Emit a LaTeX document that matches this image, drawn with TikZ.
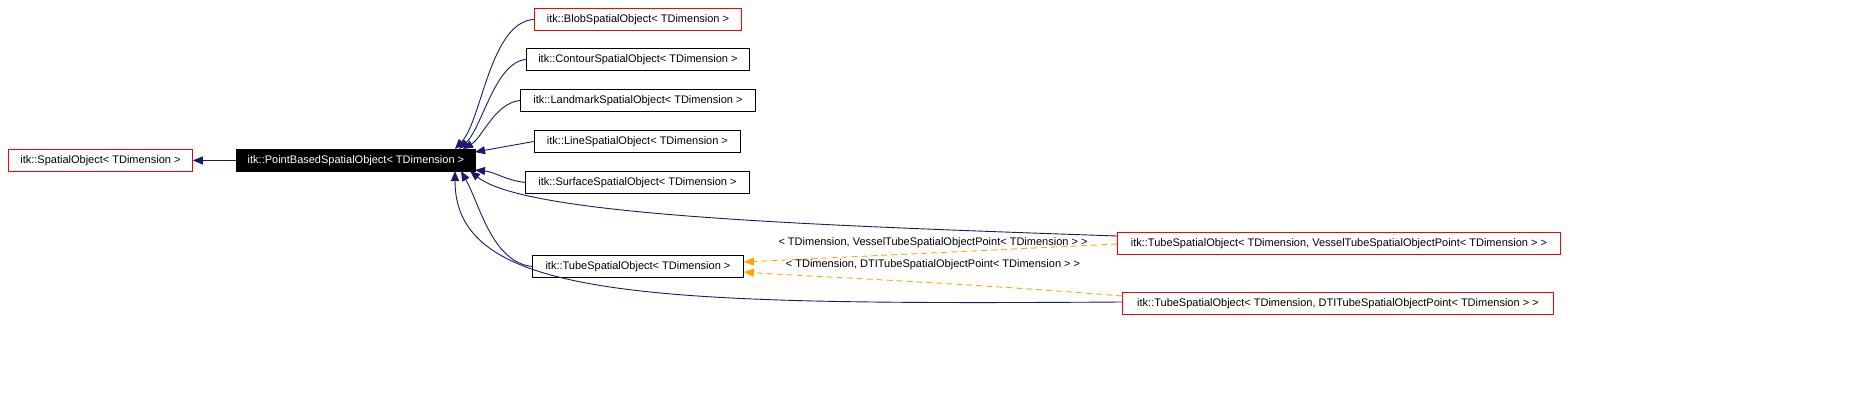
\documentclass[tikz,border=0pt]{standalone}
\usepackage{fontspec}
\setmainfont{Liberation Sans}
\usetikzlibrary{arrows.meta}
\definecolor{navy}{RGB}{25,25,112}
\definecolor{dorange}{RGB}{255,165,0}
\begin{document}
\begin{tikzpicture}[x=1pt,y=-1pt,line width=0.9pt,
  box/.style={draw=black,fill=white,inner sep=0pt,minimum height=22pt,font=\fontsize{11}{13}\selectfont,anchor=north west},
  rbox/.style={box,draw=red},
  inh/.style={navy,-{Triangle[length=10pt,width=8pt]}},
  tmpl/.style={dorange,dashed,dash pattern=on 6pt off 4pt,-{Triangle[length=10pt,width=8pt]}},
  lab/.style={font=\fontsize{11}{13}\selectfont,inner sep=0pt}]
\useasboundingbox (0,0) rectangle (1850,407);
\node[rbox,minimum width=184pt] (so) at (8,149) {itk::SpatialObject< TDimension >};
\node[box,fill=black,text=white,minimum width=239pt] (pb) at (236,149) {itk::PointBasedSpatialObject< TDimension >};
\node[rbox,minimum width=207pt] (blob) at (534,8) {itk::BlobSpatialObject< TDimension >};
\node[box,minimum width=223pt] (cont) at (526,48) {itk::ContourSpatialObject< TDimension >};
\node[box,minimum width=235pt] (land) at (520,89) {itk::LandmarkSpatialObject< TDimension >};
\node[box,minimum width=206pt] (line) at (534,130) {itk::LineSpatialObject< TDimension >};
\node[box,minimum width=224pt] (surf) at (525,171) {itk::SurfaceSpatialObject< TDimension >};
\node[box,minimum width=211pt] (tube) at (532,255) {itk::TubeSpatialObject< TDimension >};
\node[rbox,minimum width=443pt] (ves) at (1117,232) {itk::TubeSpatialObject< TDimension, VesselTubeSpatialObjectPoint< TDimension > >};
\node[rbox,minimum width=431pt] (dti) at (1122,292) {itk::TubeSpatialObject< TDimension, DTITubeSpatialObjectPoint< TDimension > >};
\coordinate (c1) at (455,149);
\coordinate (c2) at (459,149);
\coordinate (c3) at (463,149);
\coordinate (c4) at (475,152);
\coordinate (c5) at (475,170);
\coordinate (c6) at (470,171);
\coordinate (c7) at (461,171);
\coordinate (c8) at (455,171);
\draw[inh] (pb.west) -- (so.east);
\draw[inh] (blob.west) .. controls (490,22) and (482,120) .. (c1);
\draw[inh] (cont.west) .. controls (495,62) and (482,128) .. (c2);
\draw[inh] (land.west) .. controls (495,103) and (482,138) .. (c3);
\draw[inh] (line.west) -- (c4);
\draw[inh] (surf.west) .. controls (505,180) and (495,172) .. (c5);
\draw[inh] (ves.west |- 0,236) .. controls (800,225) and (525,215) .. (c6);
\draw[inh] (tube.west) .. controls (492,262) and (480,205) .. (c7);
\draw[inh] (dti.west |- 0,302) .. controls (650,305) and (455,300) .. (c8);
\draw[tmpl] (ves.west |- 0,244) -- (tube.east |- 0,262);
\draw[tmpl] (dti.west |- 0,296) .. controls (950,282) and (800,276) .. (tube.east |- 0,272);
\node[lab] (l1) at (933,243) {< TDimension, VesselTubeSpatialObjectPoint< TDimension > >};
\node[lab] (l2) at (933,265) {< TDimension, DTITubeSpatialObjectPoint< TDimension > >};
\end{tikzpicture}
\end{document}
